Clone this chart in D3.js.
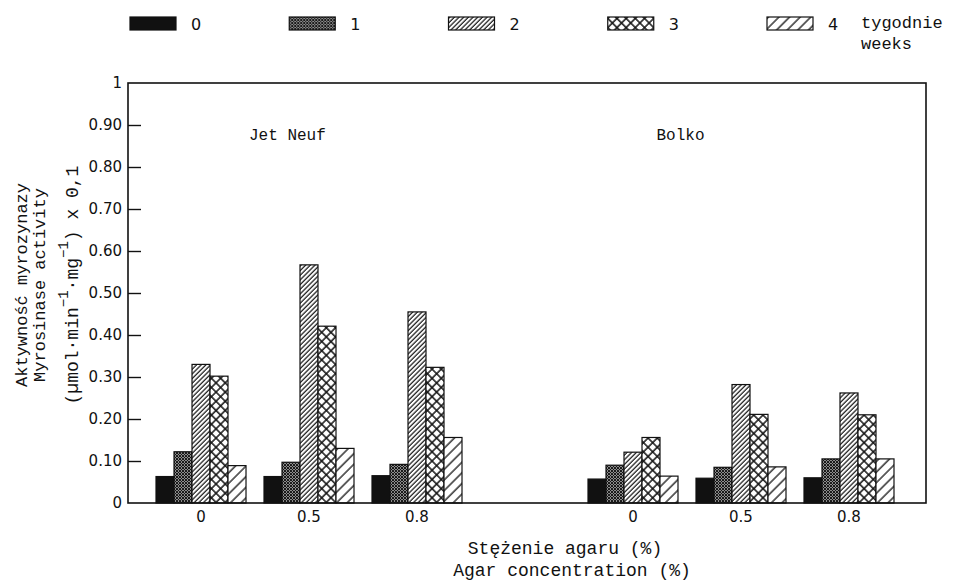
<!DOCTYPE html>
<html>
<head>
<meta charset="utf-8">
<script src="https://cdn.jsdelivr.net/npm/d3@7"></script>
<style>
  body { margin: 0; background: #fff; }
  svg { display: block; }
  .mono { font-family: "Liberation Mono", "DejaVu Sans Mono", monospace; fill: #111; }
  .sans { font-family: "DejaVu Sans", "Liberation Sans", sans-serif; fill: #111; }
</style>
</head>
<body>
<div id="chart"></div>
<script>
const concentrations = ["0", "0.5", "0.8"];
const cultivars = ["Jet Neuf", "Bolko"];
const weeks = ["0", "1", "2", "3", "4"];

// activity per week (0..4) for each agar concentration
const jetNeuf = [
  [0.063, 0.122, 0.330, 0.302, 0.089],
  [0.063, 0.097, 0.567, 0.421, 0.130],
  [0.065, 0.092, 0.455, 0.323, 0.156]
];
const bolko = [
  [0.057, 0.090, 0.121, 0.156, 0.064],
  [0.059, 0.085, 0.282, 0.211, 0.086],
  [0.060, 0.105, 0.262, 0.210, 0.105]
];

const yTicks = [0, 0.1, 0.2, 0.3, 0.4, 0.5, 0.6, 0.7, 0.8, 0.9, 1];
const yTickLabels = ["0", "0.10", "0.20", "0.30", "0.40", "0.50", "0.60", "0.70", "0.80", "0.90", "1"];

const width = 963, height = 583;
const plot = { left: 128, right: 926, top: 83, bottom: 503 };
const barWidth = 18;

// slots 0..2 = Jet Neuf, slot 3 empty, 4..6 = Bolko
const rows = [];
[jetNeuf, bolko].forEach((set, c) => {
  set.forEach((vals, i) => {
    vals.forEach((v, w) => rows.push({ slot: c * 4 + i, week: w, value: v }));
  });
});

const x = d3.scaleLinear().domain([-0.676, 6.713]).range([plot.left, plot.right]);
const y = d3.scaleLinear().domain([0, 1]).range([plot.bottom, plot.top]);
const weekOffset = d3.scaleBand().domain(weeks).range([-2.5 * barWidth, 2.5 * barWidth]);

const svg = d3.select("#chart").append("svg")
  .attr("width", width).attr("height", height)
  .attr("viewBox", [0, 0, width, height]);

const defs = svg.append("defs");
function hatch(id, size, angle, paths, sw, bg) {
  const p = defs.append("pattern").attr("id", id)
    .attr("patternUnits", "userSpaceOnUse")
    .attr("width", size).attr("height", size)
    .attr("patternTransform", `rotate(${angle})`);
  p.append("rect").attr("width", size).attr("height", size).attr("fill", bg || "#fff");
  paths.forEach(d => p.append("path").attr("d", d).attr("stroke", "#111").attr("stroke-width", sw).attr("fill", "none"));
}
hatch("w1", 3, 0, ["M0,0L3,3", "M3,0L0,3"], 1.1, "#fff");
hatch("w2", 3.3, 45, ["M1,0V3.3"], 1.2);
hatch("w3", 6.5, 45, ["M1,0V6.5", "M0,1H6.5"], 1.5);
hatch("w4", 7.5, 45, ["M1,0V7.5"], 1.3);
const fills = ["#111", "url(#w1)", "url(#w2)", "url(#w3)", "url(#w4)"];

// bars
svg.append("g")
  .selectAll("rect")
  .data(rows)
  .join("rect")
  .attr("x", d => x(d.slot) + weekOffset(weeks[d.week]))
  .attr("y", d => y(d.value))
  .attr("width", barWidth)
  .attr("height", d => y(0) - y(d.value))
  .attr("fill", d => fills[d.week])
  .attr("stroke", "#111")
  .attr("stroke-width", 1.2);

// frame
svg.append("rect")
  .attr("x", plot.left).attr("y", plot.top)
  .attr("width", plot.right - plot.left).attr("height", plot.bottom - plot.top)
  .attr("fill", "none").attr("stroke", "#111").attr("stroke-width", 1.6);

// y axis with inner ticks
const yAxis = d3.axisLeft(y).tickValues(yTicks.slice(1, -1)).tickSize(-13).tickFormat(() => "");
svg.append("g")
  .attr("transform", `translate(${plot.left},0)`)
  .call(yAxis)
  .call(g => g.select(".domain").remove())
  .call(g => g.selectAll("line").attr("stroke", "#111").attr("stroke-width", 1.4));

svg.append("g")
  .selectAll("text")
  .data(yTicks)
  .join("text")
  .attr("class", "sans")
  .attr("x", plot.left - 6)
  .attr("y", d => y(d) + 5)
  .attr("text-anchor", "end")
  .style("font-size", "15px")
  .text((d, i) => yTickLabels[i]);

// x tick labels
const xLabels = [];
[0, 1].forEach(c => concentrations.forEach((t, i) => xLabels.push({ slot: c * 4 + i, text: t })));
svg.append("g")
  .selectAll("text")
  .data(xLabels)
  .join("text")
  .attr("class", "sans")
  .attr("x", d => x(d.slot))
  .attr("y", plot.bottom + 19)
  .attr("text-anchor", "middle")
  .style("font-size", "15px")
  .text(d => d.text);

// cultivar labels
const cultivarPos = [0.8, 4.44];
svg.append("g")
  .selectAll("text")
  .data(cultivars)
  .join("text")
  .attr("class", "mono")
  .attr("x", (d, i) => x(cultivarPos[i]))
  .attr("y", 140)
  .attr("text-anchor", "middle")
  .style("font-size", "16px")
  .text(d => d);

// axis titles
svg.append("text").attr("class", "mono")
  .attr("x", 565).attr("y", 554)
  .attr("text-anchor", "middle").style("font-size", "18px")
  .text("Stężenie agaru (%)");
svg.append("text").attr("class", "mono")
  .attr("x", 572).attr("y", 576)
  .attr("text-anchor", "middle").style("font-size", "18px")
  .text("Agar concentration (%)");

const yTitle = svg.append("g").attr("transform", "translate(0,285) rotate(-90)");
yTitle.append("text").attr("class", "mono")
  .attr("x", 0).attr("y", 27).attr("text-anchor", "middle").style("font-size", "17px")
  .text("Aktywność myrozynazy");
yTitle.append("text").attr("class", "mono")
  .attr("x", 0).attr("y", 45).attr("text-anchor", "middle").style("font-size", "17px")
  .text("Myrosinase activity");
const t3 = yTitle.append("text").attr("class", "mono")
  .attr("x", 0).attr("y", 78).attr("text-anchor", "middle").style("font-size", "18px");
t3.append("tspan").text("(µmol·min");
t3.append("tspan").attr("dy", -10).style("font-size", "14px").text("−1");
t3.append("tspan").attr("dy", 10).text("·mg");
t3.append("tspan").attr("dy", -10).style("font-size", "14px").text("−1");
t3.append("tspan").attr("dy", 10).text(") x 0,1");

// legend
const legendX = d3.scaleLinear().domain([0, 4]).range([130, 767]);
const legend = svg.append("g")
  .selectAll("g")
  .data(weeks)
  .join("g")
  .attr("transform", (d, i) => `translate(${legendX(i)},17)`);
legend.append("rect")
  .attr("width", 46).attr("height", 13)
  .attr("fill", (d, i) => fills[i])
  .attr("stroke", "#111").attr("stroke-width", 1.2);
legend.append("text")
  .attr("class", "sans")
  .attr("x", 61).attr("y", 13)
  .style("font-size", "16px")
  .text(d => d);
svg.append("text").attr("class", "mono")
  .attr("x", 861).attr("y", 28).style("font-size", "17px").text("tygodnie");
svg.append("text").attr("class", "mono")
  .attr("x", 861).attr("y", 49).style("font-size", "17px").text("weeks");
</script>
</body>
</html>
